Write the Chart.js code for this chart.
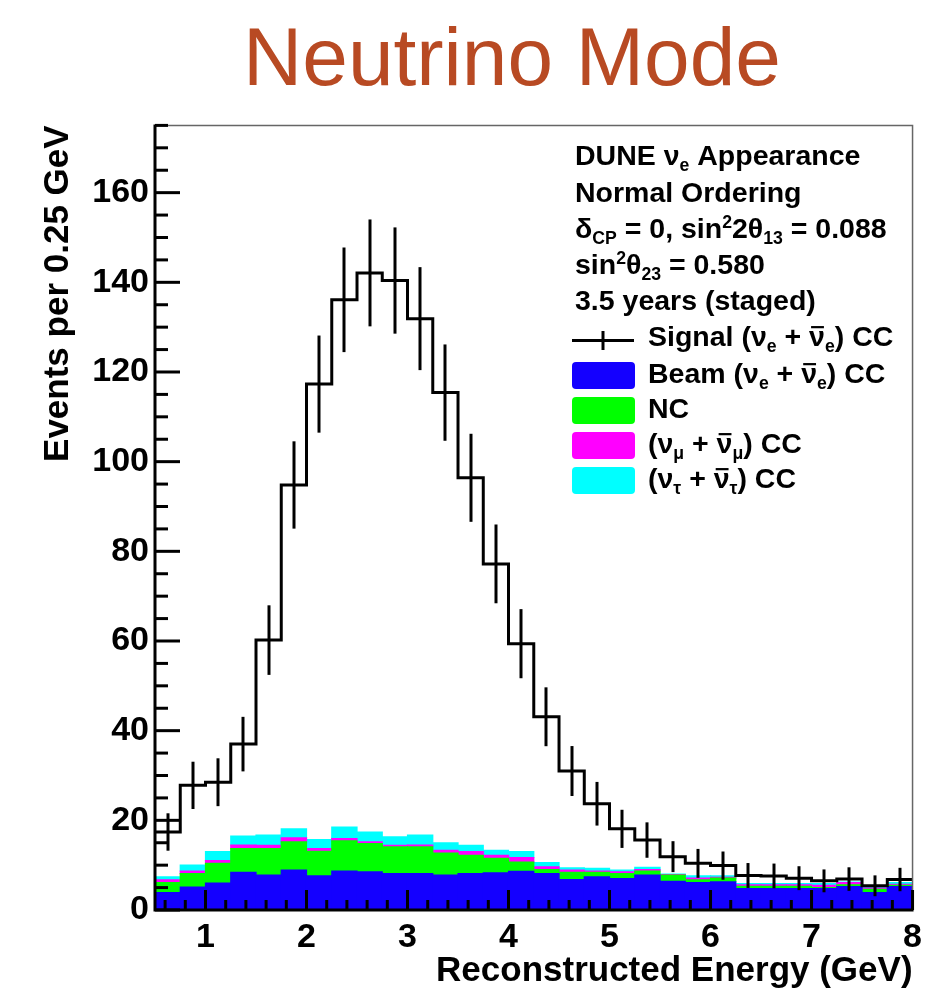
<!DOCTYPE html>
<html>
<head>
<meta charset="utf-8">
<script src="https://cdn.jsdelivr.net/npm/chart.js@4.4.1/dist/chart.umd.min.js"></script>
<style>
html,body{margin:0;padding:0;background:#fff;}
#wrap{width:929px;height:994px;}
</style>
</head>
<body>
<div id="wrap"><canvas id="c" width="929" height="994"></canvas></div>
<script>
// ---- Data ----
const binEdges = [0.5,0.75,1.0,1.25,1.5,1.75,2.0,2.25,2.5,2.75,3.0,3.25,3.5,3.75,4.0,4.25,4.5,4.75,5.0,5.25,5.5,5.75,6.0,6.25,6.5,6.75,7.0,7.25,7.5,7.75,8.0];
const signal = [17.4,27.8,28.5,37.0,60.2,94.8,117.3,136.1,142.1,140.4,131.9,115.4,96.4,77.2,59.4,43.1,31.0,23.7,18.1,15.6,11.9,10.4,9.9,7.7,7.6,7.1,6.5,6.9,5.4,6.8];
const beamCC = [3.9,5.1,6.0,8.4,7.8,8.9,7.6,8.7,8.5,8.1,8.1,7.8,8.1,8.3,8.6,8.1,6.8,7.4,7.0,7.8,6.4,6.1,6.3,4.8,4.8,4.8,4.8,5.2,3.9,5.2];
const ncBkg = [2.2,3.0,4.4,5.3,5.9,6.3,5.5,6.7,6.3,6.0,6.0,4.9,4.1,3.2,2.1,0.9,1.6,1.0,1.1,0.9,1.4,0.6,0.8,0.5,0.5,0.5,0.2,0.4,0.7,0.3];
const numuCC = [0.6,0.6,0.6,0.8,0.7,0.9,0.6,0.5,0.4,0.3,0.4,0.6,0.8,0.7,1.0,0.6,0.5,0.3,0.4,0.3,0.1,0.4,0.2,0.3,0.3,0.3,0.5,0.5,0.3,0.2];
const nutauCC = [0.7,1.3,2.0,2.0,2.3,2.0,2.0,2.6,2.2,1.9,2.2,1.7,1.4,1.1,1.3,1.0,0.5,0.6,0.4,0.5,0.1,0.5,0.3,0.3,0.3,0.3,0.4,0.1,0.3,0.4];
const xTickLabels = [1,2,3,4,5,6,7,8];
const yTickLabels = [0,20,40,60,80,100,120,140,160];
const seriesLabels = ['Signal (\u03bde + \u03bd\u0305e) CC','Beam (\u03bde + \u03bd\u0305e) CC','NC','(\u03bd\u03bc + \u03bd\u0305\u03bc) CC','(\u03bd\u03c4 + \u03bd\u0305\u03c4) CC'];
const infoLines = [
  [['DUNE '],['\u03bd'],['e','sub'],[' Appearance']],
  [['Normal Ordering']],
  [['\u03b4'],['CP','sub'],[' = 0, sin'],['2','sup'],['2\u03b8'],['13','sub'],[' = 0.088']],
  [['sin'],['2','sup'],['\u03b8'],['23','sub'],[' = 0.580']],
  [['3.5 years (staged)']]
];
const legendRich = [
  [['Signal (\u03bd'],['e','sub'],[' + '],['\u03bd','bar'],['e','sub'],[') CC']],
  [['Beam (\u03bd'],['e','sub'],[' + '],['\u03bd','bar'],['e','sub'],[') CC']],
  [['NC']],
  [['(\u03bd'],['\u03bc','sub'],[' + '],['\u03bd','bar'],['\u03bc','sub'],[') CC']],
  [['(\u03bd'],['\u03c4','sub'],[' + '],['\u03bd','bar'],['\u03c4','sub'],[') CC']]
];

const FONT = '"Liberation Sans", Arial, Helvetica, sans-serif';
const COLORS = ['#000000','#1400ff','#00ff00','#ff00ff','#00ffff'];

const centers = binEdges.slice(0,-1).map((e,i)=>(e+binEdges[i+1])/2);
const toXY = arr => arr.map((v,i)=>({x:centers[i], y:v}));
const stepPts = binEdges.map((e,i)=>({x:e, y:signal[Math.min(i, signal.length-1)]}));

function drawRich(ctx, segs, x, yb, size){
  let cx = x;
  for (const [t, mode] of segs){
    const small = mode==='sub' || mode==='sup';
    const fs = small ? size*0.62 : size;
    ctx.font = 'bold ' + fs + 'px ' + FONT;
    const dy = mode==='sub' ? size*0.22 : (mode==='sup' ? -size*0.36 : 0);
    ctx.fillText(t, cx, yb+dy);
    const w = ctx.measureText(t).width;
    if (mode==='bar'){ ctx.fillRect(cx+2, yb - size*0.70, w-3, 2.2); }
    cx += w;
  }
}

const histPlugin = {
  id:'histDecor',
  afterLayout(chart){
    const t = chart.titleBlock;
    if (t){ t.left = 95; t.right = 929; }
  },
  afterDatasetsDraw(chart){
    const {ctx, chartArea:a, scales:{x, y}} = chart;
    ctx.save();
    // error bars
    ctx.strokeStyle = '#000'; ctx.lineWidth = 3; ctx.lineCap = 'butt';
    signal.forEach((v,i)=>{
      const px = Math.round(x.getPixelForValue(centers[i]));
      const e = Math.sqrt(v);
      ctx.beginPath();
      ctx.moveTo(px, y.getPixelForValue(v-e));
      ctx.lineTo(px, y.getPixelForValue(v+e));
      ctx.stroke();
    });
    // frame (top/right thin)
    ctx.strokeStyle = '#666'; ctx.lineWidth = 1.5;
    ctx.beginPath(); ctx.moveTo(a.left, a.top); ctx.lineTo(a.right, a.top); ctx.lineTo(a.right, a.bottom); ctx.stroke();
    // main axes
    ctx.strokeStyle = '#000'; ctx.lineWidth = 3;
    ctx.beginPath(); ctx.moveTo(a.left, a.top-1); ctx.lineTo(a.left, a.bottom); ctx.lineTo(a.right+1, a.bottom); ctx.stroke();
    // y ticks
    for (let k=0;k<=35;k++){
      const v = k*5; const py = y.getPixelForValue(v);
      const len = (v%20===0) ? 25 : 13;
      ctx.beginPath(); ctx.moveTo(a.left, py); ctx.lineTo(a.left+len, py); ctx.stroke();
    }
    // x ticks
    for (let k=3;k<=40;k++){
      const v = k/5; const px = x.getPixelForValue(v);
      const len = (k%5===0) ? 20 : 10;
      ctx.beginPath(); ctx.moveTo(px, a.bottom); ctx.lineTo(px, a.bottom-len); ctx.stroke();
    }
    // info text
    ctx.fillStyle = '#000'; ctx.textBaseline = 'alphabetic'; ctx.textAlign = 'left';
    const size = 28.5;
    const baseY = [165, 202, 238, 274, 310];
    infoLines.forEach((segs,i)=>drawRich(ctx, segs, 575, baseY[i], size));
    // legend
    const legY = [346, 383, 418, 453, 488];
    legendRich.forEach((segs,i)=>{
      if (i===0){
        ctx.strokeStyle = '#000'; ctx.lineWidth = 3;
        ctx.beginPath(); ctx.moveTo(572, 340.5); ctx.lineTo(634, 340.5); ctx.stroke();
        ctx.beginPath(); ctx.moveTo(603, 331); ctx.lineTo(603, 350); ctx.stroke();
      } else {
        ctx.fillStyle = COLORS[i];
        const top = legY[i] - 21;
        ctx.beginPath();
        if (ctx.roundRect) ctx.roundRect(572, top, 63, 27, 4); else ctx.rect(572, top, 63, 27);
        ctx.fill();
      }
      ctx.fillStyle = '#000';
      drawRich(ctx, segs, 648, legY[i], size);
    });
    ctx.restore();
  }
};

const barCommon = {type:'bar', barPercentage:1, categoryPercentage:1, borderWidth:0, inflateAmount:0.6, stack:'bkg', order:2};

new Chart(document.getElementById('c'), {
  type:'bar',
  data:{
    datasets:[
      {type:'line', label:seriesLabels[0], data:stepPts, stepped:'before', borderColor:'#000', borderWidth:3, pointRadius:0, fill:false, order:0, tension:0},
      Object.assign({label:seriesLabels[1], data:toXY(beamCC), backgroundColor:COLORS[1]}, barCommon),
      Object.assign({label:seriesLabels[2], data:toXY(ncBkg), backgroundColor:COLORS[2]}, barCommon),
      Object.assign({label:seriesLabels[3], data:toXY(numuCC), backgroundColor:COLORS[3]}, barCommon),
      Object.assign({label:seriesLabels[4], data:toXY(nutauCC), backgroundColor:COLORS[4]}, barCommon)
    ]
  },
  options:{
    responsive:false, animation:false, devicePixelRatio:1,
    layout:{padding:{left:0, right:12, top:0, bottom:0}},
    plugins:{
      legend:{display:false}, tooltip:{enabled:false},
      title:{display:true, text:'Neutrino Mode', color:'#B84A23',
        font:{family:FONT, size:82, weight:'normal', lineHeight:1.2}, padding:{top:13, bottom:14}}
    },
    scales:{
      x:{type:'linear', min:0.5, max:8, offset:false, stacked:true,
        grid:{display:false, drawTicks:false}, border:{display:false},
        afterBuildTicks:s=>{ s.ticks = xTickLabels.map(v=>({value:v})); },
        afterFit:s=>{ s.height = 84; },
        ticks:{autoSkip:false, maxRotation:0, padding:7, color:'#000', font:{family:FONT, size:34, weight:'bold'}},
        title:{display:true, text:'Reconstructed Energy (GeV)', align:'end', color:'#000',
          font:{family:FONT, size:35, weight:'bold', lineHeight:1.2}, padding:{top:0, bottom:2}}
      },
      y:{type:'linear', min:0, max:175, stacked:true,
        grid:{display:false, drawTicks:false}, border:{display:false},
        afterBuildTicks:s=>{ s.ticks = yTickLabels.map(v=>({value:v})); },
        afterFit:s=>{ s.width = 155; },
        ticks:{autoSkip:false, padding:6, color:'#000', font:{family:FONT, size:34, weight:'bold'}},
        title:{display:true, text:'Events per 0.25 GeV', align:'end', color:'#000',
          font:{family:FONT, size:35, weight:'bold', lineHeight:1.2}, padding:{top:37, bottom:0}}
      }
    }
  },
  plugins:[histPlugin]
});
</script>
</body>
</html>
